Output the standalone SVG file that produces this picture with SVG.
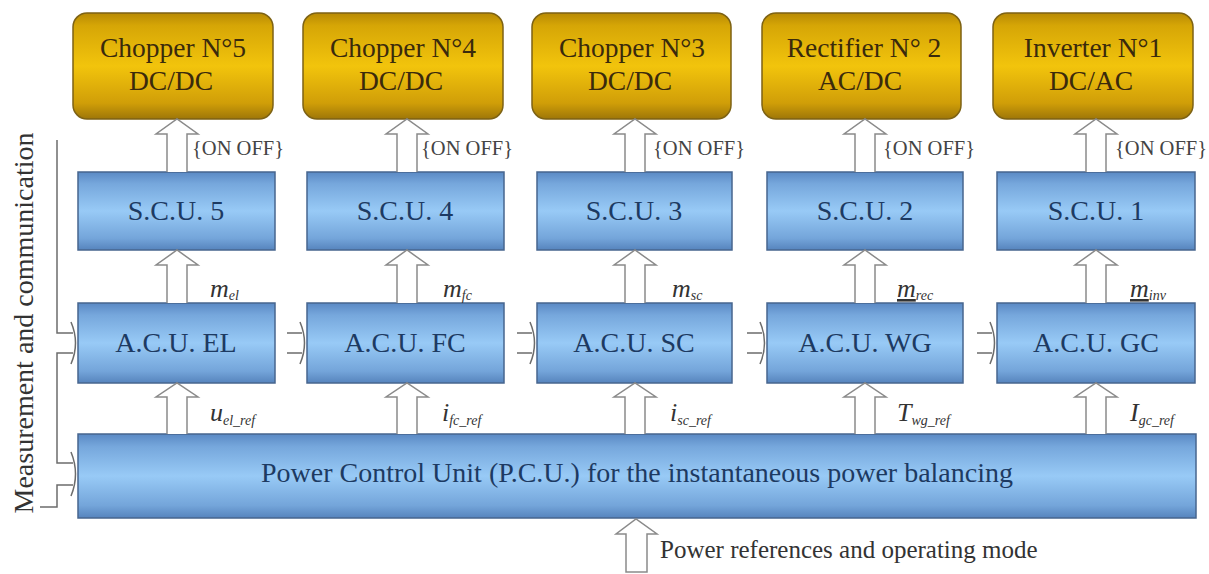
<svg xmlns="http://www.w3.org/2000/svg" width="1209" height="574" viewBox="0 0 1209 574">
<defs>
<linearGradient id="gold" x1="0" y1="0" x2="0" y2="1">
<stop offset="0" stop-color="#b88a04"/>
<stop offset="0.12" stop-color="#d6a606"/>
<stop offset="0.5" stop-color="#f2c40c"/>
<stop offset="0.85" stop-color="#d09e08"/>
<stop offset="1" stop-color="#9e7608"/>
</linearGradient>
<linearGradient id="blue" x1="0" y1="0" x2="0" y2="1">
<stop offset="0" stop-color="#5a89c4"/>
<stop offset="0.15" stop-color="#76a7dc"/>
<stop offset="0.5" stop-color="#98caf6"/>
<stop offset="0.85" stop-color="#74a5da"/>
<stop offset="1" stop-color="#5684bd"/>
</linearGradient>
<style>
.gold{fill:url(#gold);stroke:#7d6214;stroke-width:1.5}
.blue{fill:url(#blue);stroke:#47668e;stroke-width:1.5}
.gt{font-family:"Liberation Serif","Times New Roman",serif;font-size:27.5px;fill:#3a2a0c;text-anchor:middle}
.bt{font-family:"Liberation Serif","Times New Roman",serif;font-size:28px;fill:#1d3a62;text-anchor:middle}
.arr{fill:#fff;stroke:#8a8a8a;stroke-width:1.5}
.ln{fill:none;stroke:#6c6c6c;stroke-width:1.5}
.lb{font-family:"Liberation Serif","Times New Roman",serif;font-size:20.5px;fill:#444}
.it{font-family:"Liberation Serif","Times New Roman",serif;font-style:italic;font-size:26px;fill:#333}
.sub{font-size:14px}
</style>
</defs>
<rect width="1209" height="574" fill="#fff"/>

<g id="chopper5"><rect class="gold" x="73" y="13" width="200" height="106" rx="14"/><text class="gt" x="173" y="57">Chopper N°5</text><text class="gt" x="171" y="90">DC/DC</text></g>
<g id="chopper4"><rect class="gold" x="303" y="13" width="200" height="106" rx="14"/><text class="gt" x="403" y="57">Chopper N°4</text><text class="gt" x="401" y="90">DC/DC</text></g>
<g id="chopper3"><rect class="gold" x="532" y="13" width="199" height="106" rx="14"/><text class="gt" x="632" y="57">Chopper N°3</text><text class="gt" x="630" y="90">DC/DC</text></g>
<g id="rectifier2"><rect class="gold" x="762" y="13" width="199" height="106" rx="14"/><text class="gt" x="864" y="57">Rectifier N° 2</text><text class="gt" x="860" y="90">AC/DC</text></g>
<g id="inverter1"><rect class="gold" x="993" y="13" width="200" height="106" rx="14"/><text class="gt" x="1093" y="57">Inverter N°1</text><text class="gt" x="1091" y="90">DC/AC</text></g>

<g id="scu5"><rect class="blue" x="78" y="172" width="197" height="78"/><text class="bt" x="176" y="220">S.C.U. 5</text></g>
<g id="scu4"><rect class="blue" x="307" y="172" width="197" height="78"/><text class="bt" x="405" y="220">S.C.U. 4</text></g>
<g id="scu3"><rect class="blue" x="537" y="172" width="195" height="78"/><text class="bt" x="634" y="220">S.C.U. 3</text></g>
<g id="scu2"><rect class="blue" x="767" y="172" width="196" height="78"/><text class="bt" x="865" y="220">S.C.U. 2</text></g>
<g id="scu1"><rect class="blue" x="997" y="172" width="198" height="78"/><text class="bt" x="1096" y="220">S.C.U. 1</text></g>

<g id="acu-el"><rect class="blue" x="78" y="303" width="197" height="80"/><text class="bt" x="176" y="352">A.C.U. EL</text></g>
<g id="acu-fc"><rect class="blue" x="307" y="303" width="197" height="80"/><text class="bt" x="405" y="352">A.C.U. FC</text></g>
<g id="acu-sc"><rect class="blue" x="537" y="303" width="195" height="80"/><text class="bt" x="634" y="352">A.C.U. SC</text></g>
<g id="acu-wg"><rect class="blue" x="767" y="303" width="196" height="80"/><text class="bt" x="865" y="352">A.C.U. WG</text></g>
<g id="acu-gc"><rect class="blue" x="997" y="303" width="198" height="80"/><text class="bt" x="1096" y="352">A.C.U. GC</text></g>

<g id="pcu"><rect class="blue" x="78" y="434" width="1118" height="84"/><text class="bt" x="637" y="482">Power Control Unit (P.C.U.) for the instantaneous power balancing</text></g>

<g id="connectors">
<path class="arr" d="M167,172 V134 H156 L177,119 L198,134 H187 V172"/>
<path class="arr" d="M397,172 V134 H386 L407,119 L428,134 H417 V172"/>
<path class="arr" d="M625,172 V134 H614 L635,119 L656,134 H645 V172"/>
<path class="arr" d="M855,172 V134 H844 L865,119 L886,134 H875 V172"/>
<path class="arr" d="M1086,172 V134 H1075 L1096,119 L1117,134 H1106 V172"/>
<path class="arr" d="M167,303 V265 H156 L177,250 L198,265 H187 V303"/>
<path class="arr" d="M397,303 V265 H386 L407,250 L428,265 H417 V303"/>
<path class="arr" d="M625,303 V265 H614 L635,250 L656,265 H645 V303"/>
<path class="arr" d="M855,303 V265 H844 L865,250 L886,265 H875 V303"/>
<path class="arr" d="M1086,303 V265 H1075 L1096,250 L1117,265 H1106 V303"/>
<path class="arr" d="M167,434 V397 H156 L177,383 L198,397 H187 V434"/>
<path class="arr" d="M397,434 V397 H386 L407,383 L428,397 H417 V434"/>
<path class="arr" d="M625,434 V397 H614 L635,383 L656,397 H645 V434"/>
<path class="arr" d="M855,434 V397 H844 L865,383 L886,397 H875 V434"/>
<path class="arr" d="M1086,434 V397 H1075 L1096,383 L1117,397 H1106 V434"/>
<path class="arr" d="M626,572 V534 H616 L636,519 L657,534 H647 V572 Z"/>
<path class="ln" d="M57,140 V333 H73 M73,353 H57 V463 H73 M73,485 H57 V507 H40"/>
<path class="ln" d="M71,322 Q80,343 71,364 M71,452 Q80,474 71,496"/>
<path class="ln" d="M287,333 H302 M287,353 H302 M300,322 Q309,343 300,364"/>
<path class="ln" d="M517,333 H532 M517,353 H532 M530,322 Q539,343 530,364"/>
<path class="ln" d="M747,333 H762 M747,353 H762 M760,322 Q769,343 760,364"/>
<path class="ln" d="M977,333 H992 M977,353 H992 M990,322 Q999,343 990,364"/>
</g>

<g id="labels">
<text class="lb" x="192" y="155">{ON OFF}</text>
<text class="lb" x="421" y="155">{ON OFF}</text>
<text class="lb" x="653" y="155">{ON OFF}</text>
<text class="lb" x="883" y="155">{ON OFF}</text>
<text class="lb" x="1115" y="155">{ON OFF}</text>

<text class="it" x="210" y="297">m<tspan class="sub" dy="3">el</tspan></text>
<text class="it" x="443" y="297">m<tspan class="sub" dy="3">fc</tspan></text>
<text class="it" x="672" y="297">m<tspan class="sub" dy="3">sc</tspan></text>
<text class="it" x="897" y="297"><tspan text-decoration="underline">m</tspan><tspan class="sub" dy="3">rec</tspan></text>
<text class="it" x="1130" y="297"><tspan text-decoration="underline">m</tspan><tspan class="sub" dy="3">inv</tspan></text>

<text class="it" x="210" y="421">u<tspan class="sub" dy="4">el_ref</tspan></text>
<text class="it" x="442" y="421">i<tspan class="sub" dy="4">fc_ref</tspan></text>
<text class="it" x="670" y="421">i<tspan class="sub" dy="4">sc_ref</tspan></text>
<text class="it" x="897" y="421">T<tspan class="sub" dy="4">wg_ref</tspan></text>
<text class="it" x="1130" y="421">I<tspan class="sub" dy="4">gc_ref</tspan></text>

<text class="lb" x="660" y="558" style="font-size:25px;fill:#333">Power references and operating mode</text>
<text x="0" y="0" transform="translate(33,323) rotate(-90)" style="font-family:'Liberation Serif','Times New Roman',serif;font-size:28px;fill:#333;text-anchor:middle">Measurement and communication</text>
</g>
</svg>
